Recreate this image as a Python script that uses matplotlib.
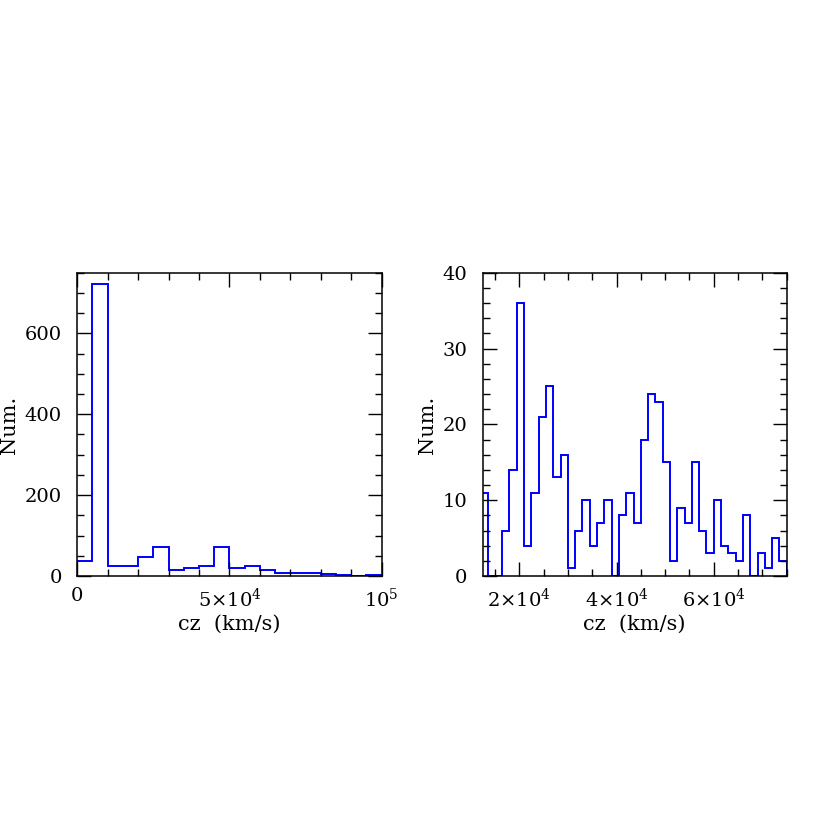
import numpy as np
import matplotlib
matplotlib.use("Agg")
import matplotlib.pyplot as plt
from matplotlib.ticker import MultipleLocator, FixedLocator

plt.rcParams['font.family'] = ['DejaVu Serif']
plt.rcParams['mathtext.fontset'] = 'dejavuserif'

# histograma completo (bins de 5000 km/s)
left_start = 0
left_width = 5000
left_counts = [36, 722, 26, 24, 47, 73, 16, 21, 26, 71,
               21, 26, 16, 8, 8, 7, 6, 3, 1, 2]
left_xticks = [0, 50000, 100000]
left_xlabels = ['0', r'$5{\times}10^4$', r'$10^5$']

# zoom (bins de 1500 km/s)
right_start = 12000
right_width = 1500
right_counts = [11, 0, 0, 6, 14, 36, 4, 11, 21, 25, 13, 16, 1, 6, 10,
                4, 7, 10, 0, 8, 11, 7, 18, 24, 23, 15, 2, 9, 7, 15,
                6, 3, 10, 4, 3, 2, 8, 0, 3, 1, 5, 2]
right_xticks = [20000, 40000, 60000]
right_xlabels = [r'$2{\times}10^4$', r'$4{\times}10^4$', r'$6{\times}10^4$']

fs_tick = 14
fs_label = 15
fig = plt.figure(figsize=(8.3, 8.3), dpi=100)
ax1 = fig.add_axes([0.0931, 0.306, 0.3667, 0.3654])
ax2 = fig.add_axes([0.5816, 0.306, 0.3663, 0.3654])


def style(ax):
    for s in ax.spines.values():
        s.set_linewidth(1.1)
    ax.tick_params(which='both', direction='in', top=True, right=True,
                   labelsize=fs_tick)
    ax.tick_params(axis='x', which='both', pad=8)
    ax.tick_params(axis='y', which='both', pad=11)
    ax.tick_params(which='major', length=10, width=1.0)
    ax.tick_params(which='minor', length=5, width=1.0)
    ax.set_xlabel('cz  (km/s)', fontsize=fs_label, labelpad=3)
    ax.set_ylabel('Num.', fontsize=fs_label, labelpad=4)


edges1 = left_start + left_width * np.arange(len(left_counts) + 1)
ax1.stairs(left_counts, edges1, color='#0000ff', linewidth=1.4)
ax1.set_xlim(0, 100000)
ax1.set_ylim(0, 750)
ax1.xaxis.set_major_locator(FixedLocator(left_xticks))
ax1.set_xticklabels(left_xlabels)
ax1.xaxis.set_minor_locator(MultipleLocator(10000))
ax1.yaxis.set_major_locator(MultipleLocator(200))
ax1.yaxis.set_minor_locator(MultipleLocator(50))
style(ax1)

edges2 = right_start + right_width * np.arange(len(right_counts) + 1)
ax2.stairs(right_counts, edges2, color='#0000ff', linewidth=1.4)
ax2.set_xlim(12500, 75000)
ax2.set_ylim(0, 40)
ax2.xaxis.set_major_locator(FixedLocator(right_xticks))
ax2.set_xticklabels(right_xlabels)
ax2.xaxis.set_minor_locator(MultipleLocator(5000))
ax2.yaxis.set_major_locator(MultipleLocator(10))
ax2.yaxis.set_minor_locator(MultipleLocator(2))
style(ax2)

fig.savefig('out.png', dpi=100)
